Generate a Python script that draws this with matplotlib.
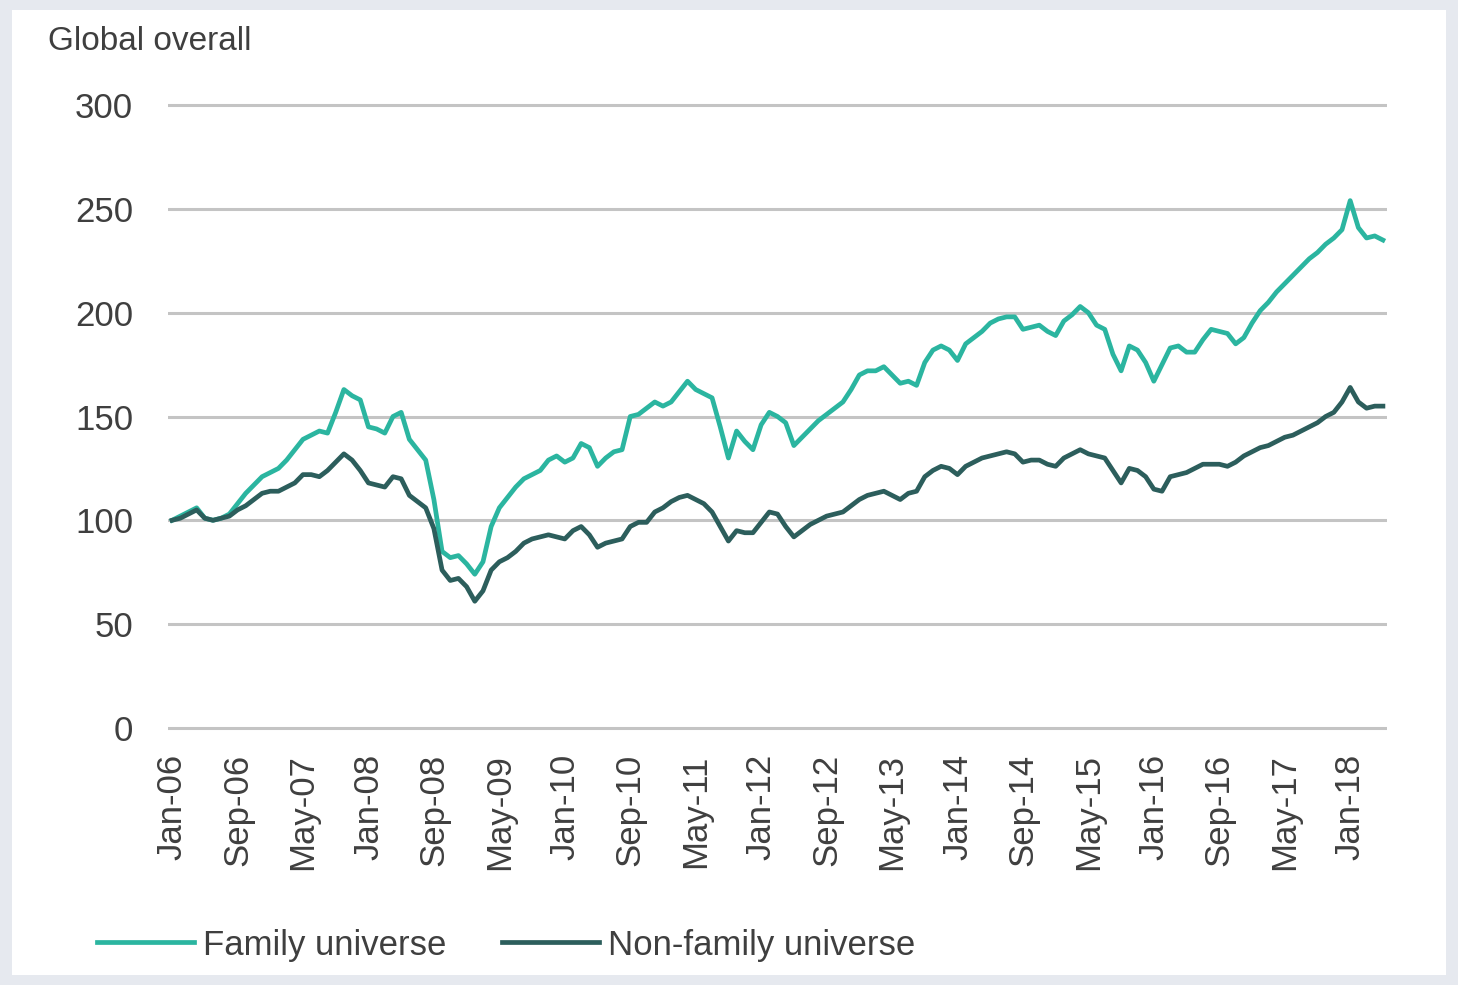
import numpy as np
import pandas as pd
import matplotlib
matplotlib.use('Agg')
import matplotlib.pyplot as plt
from matplotlib.patches import Rectangle

# monthly index levels, Jan-06 .. May-18 (rebased to 100)
months = pd.date_range('2006-01-01', '2018-05-01', freq='MS')

family = [
	100, 102, 104, 106, 101, 100, 101, 103, 108, 113, 117, 121,
	123, 125, 129, 134, 139, 141, 143, 142, 152, 163, 160, 158,
	145, 144, 142, 150, 152, 139, 134, 129, 110, 85, 82, 83,
	79, 74, 80, 97, 106, 111, 116, 120, 122, 124, 129, 131,
	128, 130, 137, 135, 126, 130, 133, 134, 150, 151, 154, 157,
	155, 157, 162, 167, 163, 161, 159, 145, 130, 143, 138, 134,
	146, 152, 150, 147, 136, 140, 144, 148, 151, 154, 157, 163,
	170, 172, 172, 174, 170, 166, 167, 165, 176, 182, 184, 182,
	177, 185, 188, 191, 195, 197, 198, 198, 192, 193, 194, 191,
	189, 196, 199, 203, 200, 194, 192, 180, 172, 184, 182, 176,
	167, 175, 183, 184, 181, 181, 187, 192, 191, 190, 185, 188,
	195, 201, 205, 210, 214, 218, 222, 226, 229, 233, 236, 240,
	254, 241, 236, 237, 235,
]

non_family = [
	100, 101, 103, 105, 101, 100, 101, 102, 105, 107, 110, 113,
	114, 114, 116, 118, 122, 122, 121, 124, 128, 132, 129, 124,
	118, 117, 116, 121, 120, 112, 109, 106, 96, 76, 71, 72,
	68, 61, 66, 76, 80, 82, 85, 89, 91, 92, 93, 92,
	91, 95, 97, 93, 87, 89, 90, 91, 97, 99, 99, 104,
	106, 109, 111, 112, 110, 108, 104, 97, 90, 95, 94, 94,
	99, 104, 103, 97, 92, 95, 98, 100, 102, 103, 104, 107,
	110, 112, 113, 114, 112, 110, 113, 114, 121, 124, 126, 125,
	122, 126, 128, 130, 131, 132, 133, 132, 128, 129, 129, 127,
	126, 130, 132, 134, 132, 131, 130, 124, 118, 125, 124, 121,
	115, 114, 121, 122, 123, 125, 127, 127, 127, 126, 128, 131,
	133, 135, 136, 138, 140, 141, 143, 145, 147, 150, 152, 157,
	164, 157, 154, 155, 155,
]

series_names = ['Family universe', 'Non-family universe']
y_ticks = [0, 50, 100, 150, 200, 250, 300]
tick_every = 8  # a label every 8 months

W, H = 1458, 985
plt.rcParams['font.family'] = ['Liberation Sans', 'DejaVu Sans']
text_col = '#3f3f3f'

fig = plt.figure(figsize=(W / 100, H / 100), dpi=100, facecolor='#e6e9ef')
# white card on the grey page
fig.patches.append(Rectangle((12 / W, 1 - 975 / H), (1446 - 12) / W, (975 - 10) / H,
	transform=fig.transFigure, facecolor='white', edgecolor='none', zorder=-5))

ax = fig.add_axes([168 / W, 1 - 732 / H, (1387 - 168) / W, (732 - 101) / H])
ax.set_facecolor('none')

x = np.arange(len(months))
ax.plot(x, family, color='#2bb5a0', lw=3.4, solid_joinstyle='round', label=series_names[0], zorder=3)
ax.plot(x, non_family, color='#2c5e5c', lw=3.4, solid_joinstyle='round', label=series_names[1], zorder=4)

ax.set_xlim(-0.5, len(months) - 0.5)
ax.set_ylim(-2, 302)
ax.set_yticks(y_ticks)
ax.yaxis.grid(True, color='#c4c4c4', lw=2.2)
ax.set_axisbelow(True)
for s in ax.spines.values():
	s.set_visible(False)

pos = x[::tick_every]
ax.set_xticks(pos)
ax.set_xticklabels([months[i].strftime('%b-%y') for i in pos], rotation=90, va='top', ha='center')
ax.tick_params(axis='x', length=0, pad=16, labelsize=25, labelcolor=text_col)
ax.tick_params(axis='y', length=0, pad=25, labelsize=25, labelcolor=text_col)

fig.text(48 / W, 1 - 42 / H, 'Global overall', fontsize=24, color=text_col, va='center', ha='left')

fig.legend(loc='center left', bbox_to_anchor=(97 / W, 1 - 945 / H), ncol=2, frameon=False,
	fontsize=25, labelcolor=text_col, handlelength=2.8, handletextpad=0.25,
	columnspacing=1.6, borderpad=0, borderaxespad=0)

fig.savefig('out.png', dpi=100, facecolor=fig.get_facecolor())
